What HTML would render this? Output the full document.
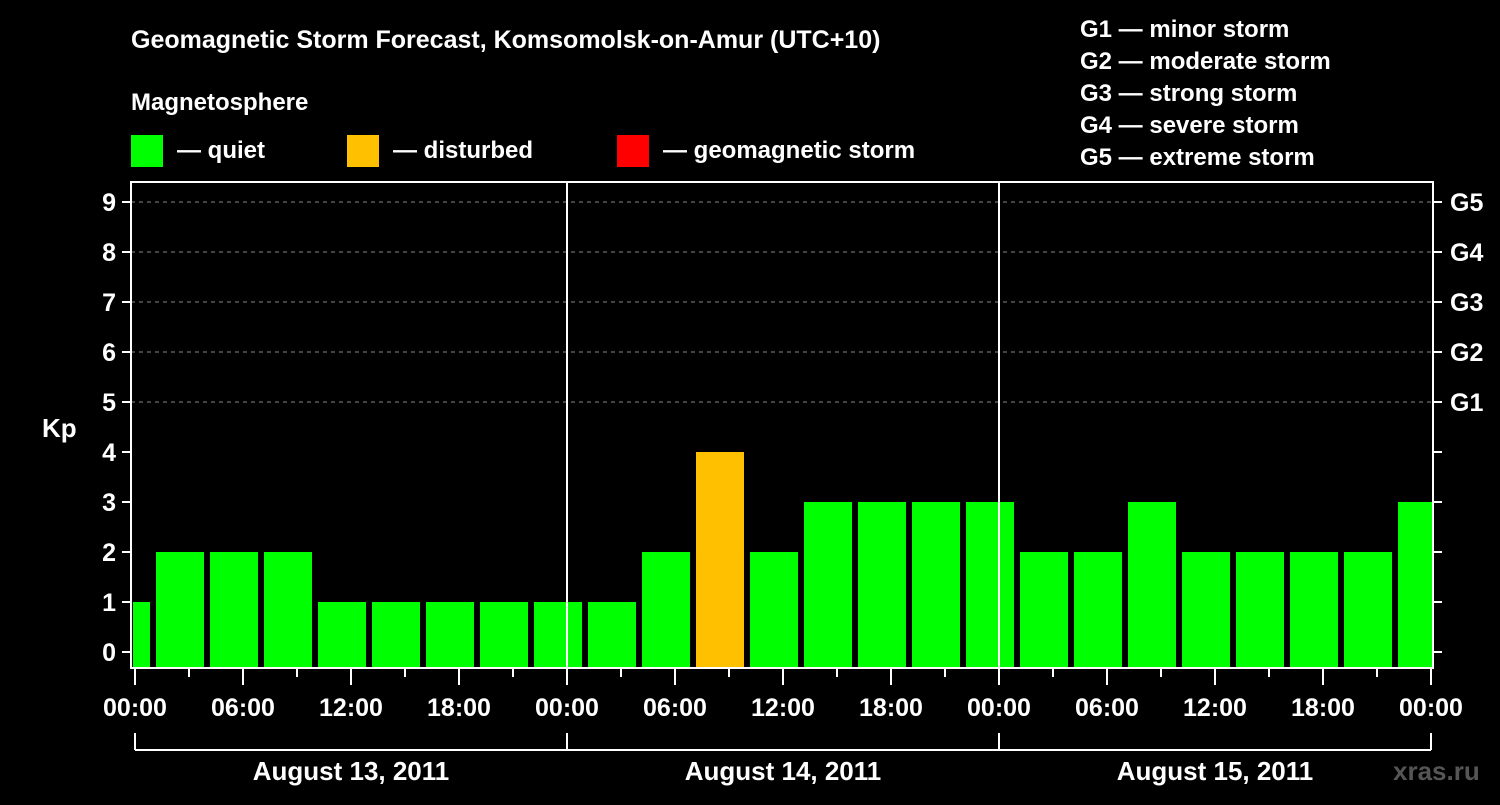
<!DOCTYPE html>
<html><head><meta charset="utf-8"><style>
body{margin:0;background:#000;width:1500px;height:800px;overflow:hidden}
svg{font-family:"Liberation Sans",Arial,sans-serif;font-weight:bold}
</style></head><body>
<svg id="c" width="1500" height="800">
<rect width="1500" height="800" fill="#000"/>
<text x="131" y="48" fill="#fff" font-size="25">Geomagnetic Storm Forecast, Komsomolsk-on-Amur (UTC+10)</text>
<text x="131" y="110" fill="#fff" font-size="24">Magnetosphere</text>
<g><rect x="131" y="135" width="32" height="32" fill="#00ff00"/><text x="177" y="158" fill="#fff" font-size="24">— quiet</text></g>
<g><rect x="347" y="135" width="32" height="32" fill="#ffc000"/><text x="393" y="158" fill="#fff" font-size="24">— disturbed</text></g>
<g><rect x="617" y="135" width="32" height="32" fill="#ff0000"/><text x="663" y="158" fill="#fff" font-size="24">— geomagnetic storm</text></g>
<g fill="#fff" font-size="24">
<text x="1080" y="37">G1 — minor storm</text><text x="1080" y="69">G2 — moderate storm</text><text x="1080" y="101">G3 — strong storm</text><text x="1080" y="133">G4 — severe storm</text><text x="1080" y="165">G5 — extreme storm</text></g>
<text x="42" y="437" fill="#fff" font-size="26">Kp</text>
<text x="1393" y="780" fill="#555" font-size="26">xras.ru</text>
<defs><clipPath id="pc"><rect x="133" y="182" width="1299" height="486"/></clipPath></defs>
<g id="grid"></g><g id="bars" clip-path="url(#pc)"></g><g id="axes"></g>
</svg>
<script>
const values=[1,2,2,2,1,1,1,1,1,1,2,4,2,3,3,3,3,2,2,3,2,2,2,2,3];
const yTicks=[0,1,2,3,4,5,6,7,8,9];
const gLabels=["G1","G2","G3","G4","G5"];
const xLabels=["00:00","06:00","12:00","18:00","00:00","06:00","12:00","18:00","00:00","06:00","12:00","18:00","00:00"];
const days=["August 13, 2011","August 14, 2011","August 15, 2011"];
const NS="http://www.w3.org/2000/svg";
const X0=135,PH=18,Y0=652,PU=50,BOT=668,TOP=182,L=131,R=1433;
const x=h=>X0+h*PH, y=v=>Y0-v*PU;
function mk(p,t,a,txt){const e=document.createElementNS(NS,t);for(const k in a)e.setAttribute(k,a[k]);if(txt!==undefined)e.textContent=txt;p.appendChild(e);return e;}
const G=document.getElementById('grid'),B=document.getElementById('bars'),A=document.getElementById('axes');
yTicks.forEach(v=>{if(v>=5){const l=mk(G,'line',{x1:L,x2:R,y1:y(v),y2:y(v),stroke:'#888','stroke-dasharray':'4 4','stroke-width':1});

}});
values.forEach((v,i)=>{const s=-2+3*i;const c=v>=5?'#ff0000':(v>=4?'#ffc000':'#00ff00');
const r=mk(B,'rect',{x:x(s)+3,y:y(v),width:48,height:BOT-y(v),fill:c});

});
[24,48].forEach(h=>{const l=mk(A,'line',{x1:x(h),x2:x(h),y1:TOP,y2:BOT,stroke:'#fff','stroke-width':2});

});
const f=mk(A,'rect',{x:L,y:TOP,width:R-L,height:BOT-TOP,fill:'none',stroke:'#fff','stroke-width':2});


yTicks.forEach(v=>{mk(A,'line',{x1:122,x2:L,y1:y(v),y2:y(v),stroke:'#fff','stroke-width':2});
mk(A,'line',{x1:R,x2:1442,y1:y(v),y2:y(v),stroke:'#fff','stroke-width':2});
const t=mk(A,'text',{x:116,y:y(v)+9,fill:'#fff','font-size':25,'text-anchor':'end'},String(v));


if(v>=5){const g=mk(A,'text',{x:1450,y:y(v)+9,fill:'#fff','font-size':25},gLabels[v-5]);

}});
for(let h=0;h<=72;h+=3){mk(A,'line',{x1:x(h),x2:x(h),y1:BOT,y2:h%6==0?685:677,stroke:'#fff','stroke-width':2});}
xLabels.forEach((s,i)=>{const t=mk(A,'text',{x:x(i*6),y:716,fill:'#fff','font-size':25,'text-anchor':'middle'},s);

});
mk(A,'line',{x1:x(0),x2:x(72),y1:750,y2:750,stroke:'#fff','stroke-width':2});
for(let d=0;d<=3;d++)mk(A,'line',{x1:x(d*24),x2:x(d*24),y1:733,y2:750,stroke:'#fff','stroke-width':2});
days.forEach((s,i)=>{const t=mk(A,'text',{x:x(i*24+12),y:780,fill:'#fff','font-size':26,'text-anchor':'middle'},s);

});
</script>
</body></html>
